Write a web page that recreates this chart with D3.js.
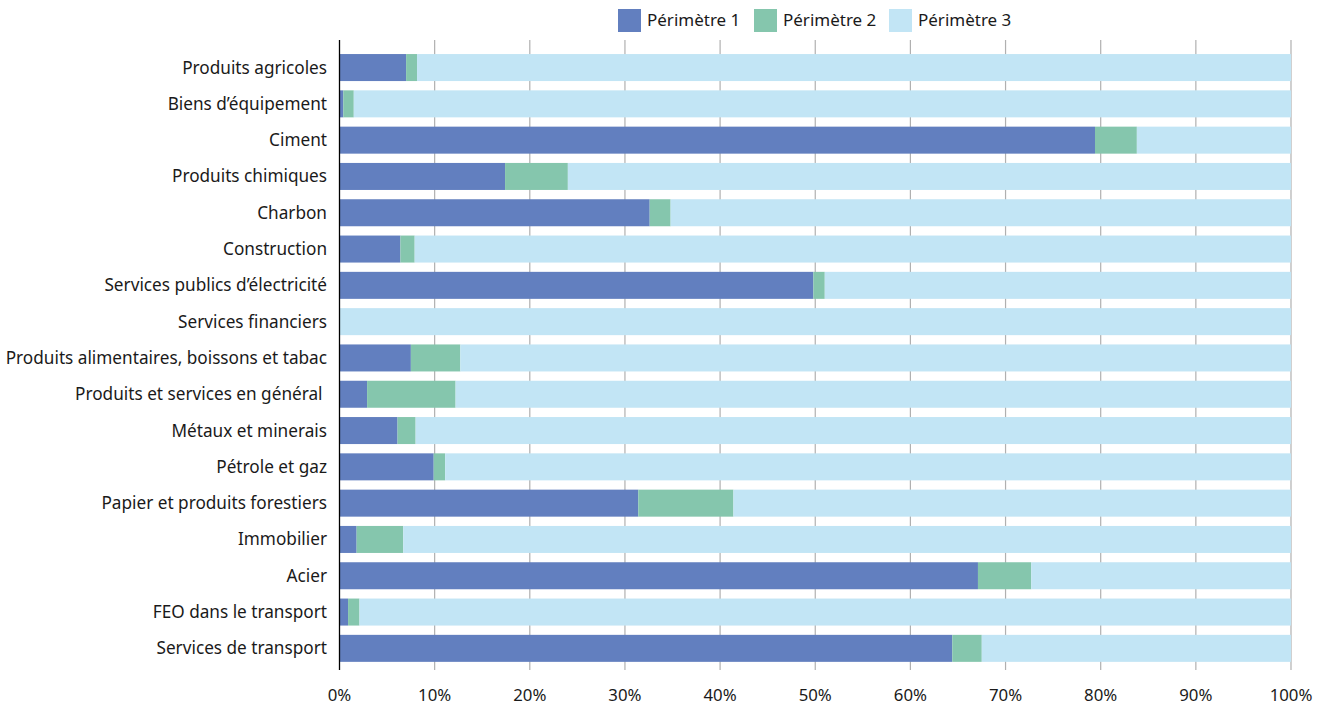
<!DOCTYPE html>
<html><head><meta charset="utf-8">
<script src="https://cdn.jsdelivr.net/npm/d3@7"></script>
<style>
html,body{margin:0;padding:0;background:#fff;}
text{font-family:"Noto Sans",sans-serif;fill:#1a1a1a;}
</style></head>
<body><svg id="c" width="1330" height="708"></svg>
<script>
const categories = ["Produits agricoles","Biens d’équipement","Ciment","Produits chimiques","Charbon","Construction","Services publics d’électricité","Services financiers","Produits alimentaires, boissons et tabac","Produits et services en général ","Métaux et minerais","Pétrole et gaz","Papier et produits forestiers","Immobilier","Acier","FEO dans le transport","Services de transport"];
const perimetre1 = [7.0,0.4,79.4,17.4,32.6,6.4,49.8,0,7.5,2.9,6.1,9.9,31.4,1.8,67.1,0.9,64.4];
const perimetre2 = [1.15,1.1,4.4,6.6,2.2,1.5,1.2,0,5.2,9.3,1.9,1.2,10.0,4.9,5.6,1.2,3.1];
const perimetre3 = perimetre1.map((v,i)=>100-v-perimetre2[i]);
const seriesNames = ["Périmètre 1","Périmètre 2","Périmètre 3"];
const colors = ["#627fbf","#85c6ad","#c2e5f5"];
const tickValues = [0,10,20,30,40,50,60,70,80,90,100];

const svg = d3.select("#c");
const x = d3.scaleLinear().domain([0,100]).range([339.5,1291]);
const y = d3.scaleBand().domain(categories).range([49.4,666.5]).paddingInner(0.256).paddingOuter(0.128);

svg.append("g").selectAll("line").data(tickValues.slice(1)).join("line")
  .attr("x1",d=>x(d)).attr("x2",d=>x(d)).attr("y1",40).attr("y2",670)
  .attr("stroke","#b0b0b0").attr("stroke-width",1.2);

const stackData = categories.map((c,i)=>({c, s0:perimetre1[i], s1:perimetre2[i], s2:perimetre3[i]}));
const stack = d3.stack().keys(["s0","s1","s2"])(stackData);

svg.append("g").selectAll("g").data(stack).join("g").attr("fill",(d,i)=>colors[i])
  .selectAll("rect").data(d=>d).join("rect")
  .attr("x",d=>x(d[0])).attr("width",d=>Math.max(0,x(d[1])-x(d[0])))
  .attr("y",d=>y(d.data.c)).attr("height",y.bandwidth());

svg.append("line").attr("x1",339.5).attr("x2",339.5).attr("y1",40).attr("y2",670)
  .attr("stroke","#000").attr("stroke-width",1.3);

svg.append("g").selectAll("text").data(categories).join("text")
  .attr("x",327).attr("y",d=>y(d)+y.bandwidth()/2).attr("dy","0.35em")
  .attr("text-anchor","end").style("white-space","pre").attr("font-size",17.2).text(d=>d);

svg.append("g").selectAll("text").data(tickValues).join("text")
  .attr("x",d=>x(d)).attr("y",695.5).attr("dy","0.35em").attr("text-anchor","middle")
  .attr("font-size",16.8).text(d=>d+"%");

const legX = [618,754,889];
const lg = svg.append("g").selectAll("g").data(seriesNames).join("g")
  .attr("transform",(d,i)=>`translate(${legX[i]},9)`);
lg.append("rect").attr("width",23).attr("height",23).attr("fill",(d,i)=>colors[i]);
lg.append("text").attr("x",29).attr("y",11.5).attr("dy","0.35em").attr("font-size",17).text(d=>d);
</script></body></html>
